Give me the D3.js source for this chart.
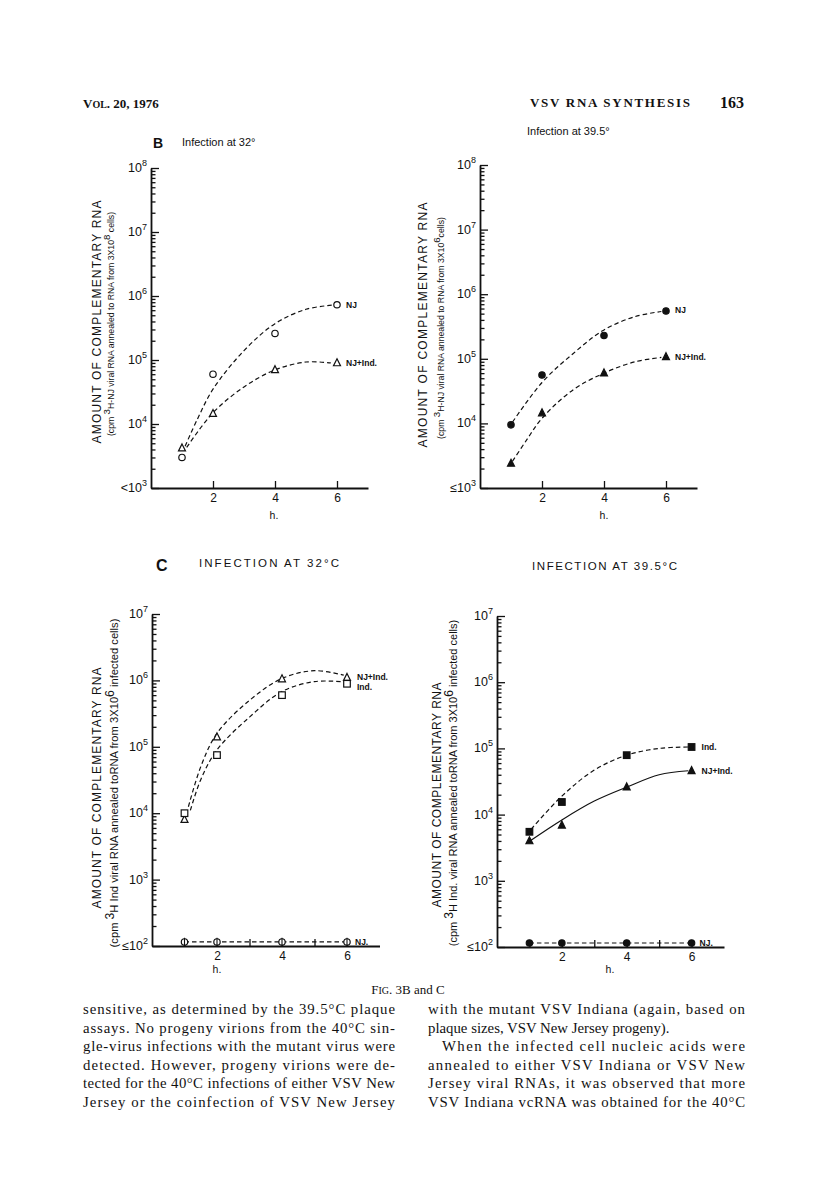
<!DOCTYPE html>
<html lang="en">
<head>
<meta charset="UTF-8">
<title>VSV RNA synthesis - Fig. 3B and C</title>
<style>
  body { margin: 0; background: #fff; }
  svg  { display: block; background: #fff; }
  .serif { font-family: "Liberation Serif", "DejaVu Serif", serif; fill: #111; }
  .sans  { font-family: "Liberation Sans", "DejaVu Sans", sans-serif; fill: #111; }
  .axis path, .axis line { stroke: #111; }
  .fit { fill: none; stroke: #111; stroke-width: 1.2; }
</style>
</head>
<body>
<svg id="page" width="816" height="1194"></svg>

<script src="https://d3js.org/d3.v7.min.js"></script>
<script>
/* ---------------- Data ---------------- */
const hours = [1, 2, 4, 6];

// B, infection at 32°
const b32NJ    = [3.0e3, 6.0e4, 2.6e5, 7.3e5];
const b32NJInd = [4.2e3, 1.45e4, 7.0e4, 9.0e4];
// B, infection at 39.5°
const b39NJ    = [9.5e3, 5.6e4, 2.3e5, 5.5e5];
const b39NJInd = [2.4e3, 1.45e4, 6.0e4, 1.07e5];
// C, infection at 32°C
const c32Ind   = [1.0e4, 7.5e4, 6.0e5, 8.9e5];
const c32NJInd = [8.0e3, 1.4e5, 1.05e6, 1.1e6];
const c32NJ    = [115, 115, 115, 115];
// C, infection at 39.5°C
const c39Ind   = [5.5e3, 1.55e4, 7.9e4, 1.05e5];
const c39NJInd = [4.0e3, 6.9e3, 2.6e4, 4.6e4];
const c39NJ    = [115, 115, 115, 115];

// hand-drawn fit curves (h, value)
const b32NJFitH    = [1.1, 1.5, 2, 3, 4, 5, 5.85];
const b32NJFitV    = [4.5e3, 1.2e4, 3.5e4, 1.4e5, 3.7e5, 6.2e5, 7.2e5];
const b32NJIndFitH = [1.15, 2, 3, 4, 5, 5.8];
const b32NJIndFitV = [4.3e3, 1.5e4, 3.8e4, 7.0e4, 9.3e4, 9.0e4];
const b39NJFitH    = [1.05, 2, 3, 4, 5, 5.85];
const b39NJFitV    = [1.05e4, 4.3e4, 1.2e5, 2.8e5, 4.5e5, 5.4e5];
const b39NJIndFitH = [1.05, 1.5, 2, 3, 4, 5, 5.85];
const b39NJIndFitV = [2.6e3, 5.5e3, 1.2e4, 3.3e4, 6.0e4, 9.0e4, 1.05e5];
const c32NJIndFitH = [1.12, 1.5, 2, 3, 4, 5, 5.9];
const c32NJIndFitV = [1.25e4, 5.0e4, 1.6e5, 5.0e5, 1.07e6, 1.4e6, 1.2e6];
const c32IndFitH   = [1.18, 1.5, 2, 3, 4, 5, 5.9];
const c32IndFitV   = [1.1e4, 3.2e4, 9.0e4, 2.8e5, 6.8e5, 9.6e5, 9.5e5];
const c39IndFitH   = [1.05, 2, 3, 4, 5, 5.9];
const c39IndFitV   = [6.0e3, 1.9e4, 4.7e4, 7.9e4, 1.0e5, 1.05e5];
const c39NJIndFitH = [1.05, 2, 3, 4, 5, 5.9];
const c39NJIndFitV = [4.1e3, 8.3e3, 1.6e4, 2.6e4, 4.0e4, 4.6e4];
const flatFitH     = [1, 6];
const flatFitV     = [115, 115];

const xTickLabels = [2, 4, 6];

/* ---------------- Page ---------------- */
const svg = d3.select('#page');
const zip = (a, b) => a.map((v, i) => [v, b[i]]);

// running head
svg.append('text').attr('class', 'serif').attr('x', 83).attr('y', 108)
  .style('font-weight', 'bold').style('font-size', '13px')
  .html('V<tspan style="font-size:10px">OL</tspan>. 20, 1976');
svg.append('text').attr('class', 'serif').attr('x', 690).attr('y', 107)
  .attr('text-anchor', 'end').style('font-weight', 'bold').style('font-size', '13px')
  .attr('textLength', 160).text('VSV RNA SYNTHESIS');
svg.append('text').attr('class', 'serif').attr('x', 744).attr('y', 108)
  .attr('text-anchor', 'end').style('font-weight', 'bold').style('font-size', '16px')
  .text('163');

/* ---------------- Markers ---------------- */
function marker(g, type, cx, cy) {
  const s = 'stroke', k = '#111';
  if (type === 'oc' || type === 'fc') {
    g.append('circle').attr('cx', cx).attr('cy', cy).attr('r', 3.2)
      .attr('fill', type === 'fc' ? k : '#fff').attr(s, k).attr('stroke-width', 1.2);
  } else if (type === 'ot' || type === 'ft') {
    const h = 7;
    g.append('path')
      .attr('d', `M${cx},${cy - h * 0.6}L${cx + h / 2},${cy + h * 0.4}L${cx - h / 2},${cy + h * 0.4}Z`)
      .attr('fill', type === 'ft' ? k : '#fff').attr(s, k).attr('stroke-width', 1.2);
  } else if (type === 'os' || type === 'fs') {
    g.append('rect').attr('x', cx - 3.3).attr('y', cy - 3.3).attr('width', 6.6).attr('height', 6.6)
      .attr('fill', type === 'fs' ? k : '#fff').attr(s, k).attr('stroke-width', 1.2);
  } else if (type === 'cb') {
    g.append('circle').attr('cx', cx).attr('cy', cy).attr('r', 3.2)
      .attr('fill', '#fff').attr(s, k).attr('stroke-width', 1.2);
    g.append('line').attr('x1', cx).attr('x2', cx).attr('y1', cy - 4.2).attr('y2', cy + 4.2)
      .attr(s, k).attr('stroke-width', 1.1);
  }
}

/* ---------------- Panel ---------------- */
function drawPanel(p) {
  const g = svg.append('g');
  const x = d3.scaleLinear().domain([0, 7]).range(p.xRange);
  const y = d3.scaleLog().domain(p.yDomain).range(p.yRange);
  const x0 = p.xRange[0], yb = p.yRange[0];

  const all = y.ticks();
  const isMajor = v => Math.abs(Math.log10(v) - Math.round(Math.log10(v))) < 1e-9;
  const major = all.filter(isMajor), minor = all.filter(v => !isMajor(v));

  const ya = g.append('g').attr('class', 'axis').attr('transform', `translate(${x0},0)`);
  ya.call(d3.axisRight(y).tickValues(minor).tickSize(4.5).tickSizeOuter(0).tickFormat(''));
  ya.append('g').call(d3.axisRight(y).tickValues(major).tickSize(8).tickSizeOuter(0).tickFormat(''))
    .select('.domain').remove();
  ya.selectAll('path.domain').attr('stroke-width', 1.8);
  ya.selectAll('line').attr('stroke-width', 1.3);

  const xa = g.append('g').attr('class', 'axis').attr('transform', `translate(0,${yb})`)
    .call(d3.axisBottom(x).tickValues(p.xTicks).tickSize(-7).tickSizeOuter(0).tickPadding(5)
      .tickFormat(d => xTickLabels.includes(d) ? d : ''));
  xa.select('.domain').attr('stroke-width', 1.8);
  xa.selectAll('line').attr('stroke-width', 1.3);
  xa.selectAll('text').attr('class', 'sans').style('font-size', '12px').style('font-family', '"Liberation Sans", sans-serif');

  // decade labels
  major.forEach((v, i) => {
    const t = g.append('text').attr('class', 'sans').attr('x', x0 - 4).attr('y', y(v) + 4)
      .attr('text-anchor', 'end').style('font-size', '12.5px');
    t.append('tspan').text((i === 0 ? p.prefix : '') + '10');
    t.append('tspan').attr('dy', -6).style('font-size', '9px').text(Math.round(Math.log10(v)));
  });

  g.append('text').attr('class', 'sans').attr('x', p.hLabel[0]).attr('y', p.hLabel[1])
    .attr('text-anchor', 'middle').style('font-size', '10.5px').text('h.');

  // y titles
  g.append('text').attr('class', 'sans')
    .attr('transform', `translate(${p.title1[0]},${p.title1[1]}) rotate(-90)`)
    .attr('text-anchor', 'middle').attr('dy', '0.35em').style('font-size', '12px')
    .attr('textLength', p.title1[2]).attr('lengthAdjust', 'spacing')
    .text('AMOUNT OF COMPLEMENTARY RNA');
  const t2 = g.append('text').attr('class', 'sans')
    .attr('transform', `translate(${p.title2[0]},${p.title2[1]}) rotate(-90)`)
    .attr('text-anchor', 'middle').attr('dy', '0.35em').style('font-size', p.title2[2] + 'px');
  p.sub.forEach(([txt, sup]) => {
    if (sup) t2.append('tspan').attr('dy', -4).style('font-size', (p.title2[2] + 1) + 'px').text(txt);
    else t2.append('tspan').attr('dy', sup === false ? 4 : 0).text(txt);
  });

  // fits
  p.fits.forEach(f => {
    g.append('path').attr('class', 'fit')
      .attr('stroke-dasharray', f.solid ? null : '4.5,3')
      .attr('d', d3.line().x(d => x(d[0])).y(d => y(d[1])).curve(d3.curveCatmullRom.alpha(0.5))(f.pts));
  });

  // points + labels
  p.series.forEach(s => {
    s.vals.forEach((v, i) => marker(g, s.marker, x(hours[i]), y(v)));
    g.append('text').attr('class', 'sans')
      .attr('x', x(hours[hours.length - 1]) + s.lab[1]).attr('y', y(s.vals[s.vals.length - 1]) + s.lab[2])
      .style('font-size', '8.5px').style('font-weight', 'bold').text(s.lab[0]);
  });
}

/* --------------- Panel titles --------------- */
svg.append('text').attr('class', 'sans').attr('x', 153).attr('y', 148)
  .style('font-size', '14px').style('font-weight', 'bold').text('B');
svg.append('text').attr('class', 'sans').attr('x', 182).attr('y', 146)
  .style('font-size', '11px').text('Infection at 32°');
svg.append('text').attr('class', 'sans').attr('x', 527).attr('y', 135)
  .style('font-size', '11px').text('Infection at 39.5°');
svg.append('text').attr('class', 'sans').attr('x', 156).attr('y', 571)
  .style('font-size', '16px').style('font-weight', 'bold').text('C');
svg.append('text').attr('class', 'sans').attr('x', 199).attr('y', 567)
  .style('font-size', '11.5px').attr('textLength', 140).text('INFECTION AT 32°C');
svg.append('text').attr('class', 'sans').attr('x', 532).attr('y', 570)
  .style('font-size', '11.5px').attr('textLength', 145).text('INFECTION AT 39.5°C');

/* --------------- Panels --------------- */
drawPanel({
  xRange: [151, 368], yDomain: [1e3, 1e8], yRange: [488, 168], xTicks: [2, 4, 6], prefix: '<',
  hLabel: [274, 519], title1: [97, 322, 243], title2: [114, 324, 8.7],
  sub: [['(cpm '], ['3', true], ['H-NJ viral RNA annealed to RNA from 3X10', false], ['8', true], [' cells)', false]],
  fits: [{ pts: zip(b32NJFitH, b32NJFitV) }, { pts: zip(b32NJIndFitH, b32NJIndFitV) }],
  series: [
    { vals: b32NJ, marker: 'oc', lab: ['NJ', 9, 3] },
    { vals: b32NJInd, marker: 'ot', lab: ['NJ+Ind.', 9, 3] }
  ]
});
drawPanel({
  xRange: [480, 697], yDomain: [1e3, 1e8], yRange: [488, 165], xTicks: [2, 4, 6], prefix: '≤',
  hLabel: [604, 519], title1: [423, 325, 245], title2: [444, 328, 8.7],
  sub: [['(cpm '], ['3', true], ['H-NJ viral RNA annealed to RNA from 3X10', false], ['6', true], ['cells)', false]],
  fits: [{ pts: zip(b39NJFitH, b39NJFitV) }, { pts: zip(b39NJIndFitH, b39NJIndFitV) }],
  series: [
    { vals: b39NJ, marker: 'fc', lab: ['NJ', 9, 2] },
    { vals: b39NJInd, marker: 'ft', lab: ['NJ+Ind.', 9, 3] }
  ]
});
drawPanel({
  xRange: [152, 379.5], yDomain: [1e2, 1e7], yRange: [946, 614], xTicks: [1, 2, 3, 4, 5, 6], prefix: '≤',
  hLabel: [217, 973], title1: [97, 788, 241], title2: [118, 783, 11.2],
  sub: [['(cpm '], ['3', true], ['H Ind viral RNA annealed toRNA from 3X10', false], ['6', true], [' infected cells)', false]],
  fits: [{ pts: zip(c32NJIndFitH, c32NJIndFitV) }, { pts: zip(c32IndFitH, c32IndFitV) }, { pts: zip(flatFitH, flatFitV) }],
  series: [
    { vals: c32NJInd, marker: 'ot', lab: ['NJ+Ind.', 10, 2] },
    { vals: c32Ind, marker: 'os', lab: ['Ind.', 10, 6] },
    { vals: c32NJ, marker: 'cb', lab: ['NJ.', 8, 3] }
  ]
});
drawPanel({
  xRange: [497, 724], yDomain: [1e2, 1e7], yRange: [947, 616], xTicks: [1, 2, 3, 4, 5, 6], prefix: '≤',
  hLabel: [610, 973], title1: [437, 795, 225], title2: [457, 783, 11],
  sub: [['(cpm '], ['3', true], ['H Ind. viral RNA annealed toRNA from  3X10', false], ['6', true], [' infected cells)', false]],
  fits: [{ pts: zip(c39IndFitH, c39IndFitV) }, { pts: zip(c39NJIndFitH, c39NJIndFitV), solid: true }, { pts: zip(flatFitH, flatFitV) }],
  series: [
    { vals: c39Ind, marker: 'fs', lab: ['Ind.', 10, 3] },
    { vals: c39NJInd, marker: 'ft', lab: ['NJ+Ind.', 10, 3] },
    { vals: c39NJ, marker: 'fc', lab: ['NJ.', 8, 3] }
  ]
});

/* --------------- Caption and body text --------------- */
svg.append('text').attr('class', 'serif').attr('x', 408).attr('y', 994)
  .attr('text-anchor', 'middle').style('font-size', '13px')
  .html('F<tspan style="font-size:10px">IG</tspan>. 3B and C');

const leftLines = [
  'sensitive, as determined by the 39.5°C plaque',
  'assays. No progeny virions from the 40°C sin-',
  'gle-virus infections with the mutant virus were',
  'detected. However, progeny virions were de-',
  'tected for the 40°C infections of either VSV New',
  'Jersey or the coinfection of VSV New Jersey'
];
const rightLines = [
  'with the mutant VSV Indiana (again, based on',
  'plaque sizes, VSV New Jersey progeny).',
  'When the infected cell nucleic acids were',
  'annealed to either VSV Indiana or VSV New',
  'Jersey viral RNAs, it was observed that more',
  'VSV Indiana vcRNA was obtained for the 40°C'
];
function column(lines, x0, x1, ragged, indent) {
  lines.forEach((s, i) => {
    const ix = indent.includes(i) ? 14 : 0;
    const t = svg.append('text').attr('class', 'serif')
      .attr('x', x0 + ix).attr('y', 1014 + i * 18.6).style('font-size', '14.8px').text(s);
    if (!ragged.includes(i)) t.attr('textLength', x1 - x0 - ix).attr('lengthAdjust', 'spacing');
  });
}
column(leftLines, 83, 395, [], []);
column(rightLines, 428, 745, [1], [2]);
</script>
</body>
</html>
